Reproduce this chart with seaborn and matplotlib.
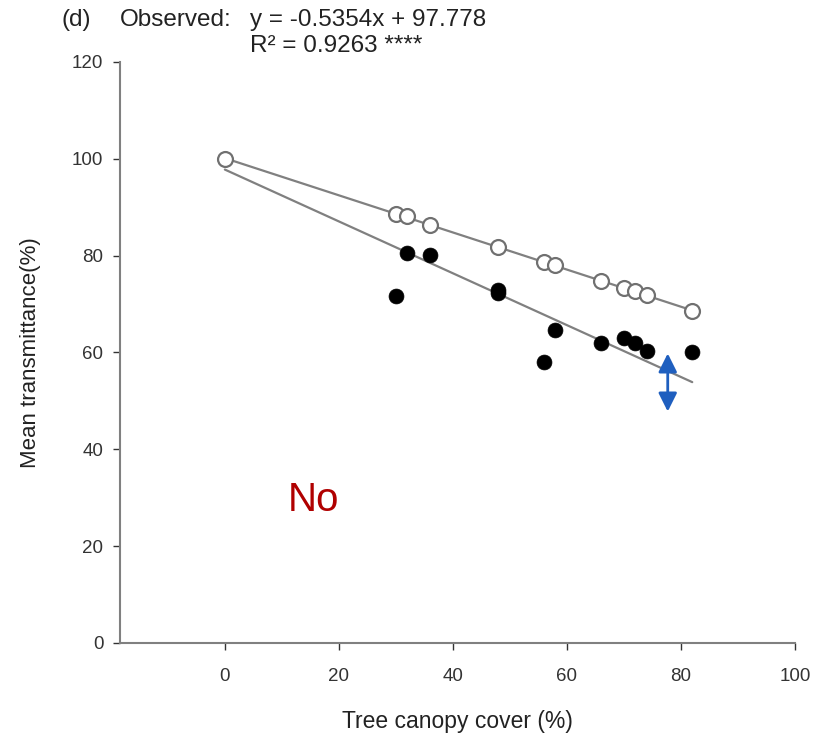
import numpy as np
import pandas as pd
import matplotlib
matplotlib.use("Agg")
import matplotlib.pyplot as plt
import seaborn as sns

# Data
open_x = [0, 30, 32, 36, 48, 56, 58, 66, 70, 72, 74, 82]
open_y = [100, 88.6, 88.1, 86.3, 81.7, 78.6, 78.0, 74.8, 73.3, 72.6, 71.8, 68.5]
filled_x = [30, 32, 36, 48, 48, 56, 58, 66, 70, 72, 74, 82]
filled_y = [71.6, 80.5, 80.2, 73.0, 72.3, 58.0, 64.7, 61.9, 62.9, 61.9, 60.4, 60.2]
obs_slope = -0.5354
obs_intercept = 97.778
line_x = [0, 82]
arrow_x = 77.7
arrow_y = [59.8, 47.8]
x_ticks = [0, 20, 40, 60, 80, 100]
y_ticks = [0, 20, 40, 60, 80, 100, 120]

sns.set_theme(style="white")
plt.rcParams['font.family'] = ['Liberation Sans', 'DejaVu Sans']

fig = plt.figure(figsize=(8.19, 7.43), dpi=100)
ax = fig.add_axes([0.1465, 0.1346, 0.824, 0.782])

gray = "#808080"
# Open-circle regression line
sns.regplot(x=np.array(open_x), y=np.array(open_y), ax=ax, ci=None, scatter=False,
            line_kws=dict(color=gray, lw=1.6), truncate=True)
# Observed regression line
obs_df = pd.DataFrame({"x": line_x, "y": [obs_slope * v + obs_intercept for v in line_x]})
sns.lineplot(data=obs_df, x="x", y="y", ax=ax, color=gray, lw=1.6)

sns.scatterplot(x=filled_x, y=filled_y, ax=ax, color="black", s=115,
                edgecolor="black", linewidth=0.5, zorder=5)
sns.scatterplot(x=open_x, y=open_y, ax=ax, facecolor="white", s=115,
                edgecolor="#707070", linewidth=1.6, zorder=6)

# Blue double arrow
ax.annotate("", xy=(arrow_x, arrow_y[1]), xytext=(arrow_x, arrow_y[0]),
            arrowprops=dict(arrowstyle="<|-|>", color="#1f5fbf", lw=2,
                            mutation_scale=28, shrinkA=0, shrinkB=0))

ax.text(15.6, 29.5, "No", color="#b00000", fontsize=29, ha="center", va="center")

ax.set_xlim(-18.4, 100)
ax.set_ylim(0, 120)
ax.set_xticks(x_ticks)
ax.set_yticks(y_ticks)
ax.tick_params(axis="both", labelsize=13.5, colors="#333333", length=5, width=1,
               direction="out", bottom=True, left=True, pad=7)
ax.tick_params(axis="x", pad=13)
for s in ["top", "right"]:
    ax.spines[s].set_visible(False)
for s in ["left", "bottom"]:
    ax.spines[s].set_color(gray)
    ax.spines[s].set_linewidth(1.5)
ax.set_xlabel("Tree canopy cover (%)", fontsize=16.5, color="#222222", labelpad=18)
ax.set_ylabel("Mean transmittance(%)", fontsize=16, color="#222222", labelpad=22)

fs = 17.5
fig.text(62 / 819, 1 - 20 / 743, "(d)", fontsize=fs, va="center", ha="left", color="#222222")
fig.text(120 / 819, 1 - 20 / 743, "Observed:", fontsize=fs, va="center", ha="left", color="#222222")
fig.text(250 / 819, 1 - 20 / 743, "y = -0.5354x + 97.778", fontsize=fs, va="center", ha="left", color="#222222")
fig.text(250 / 819, 1 - 46 / 743, "R² = 0.9263 ****", fontsize=fs, va="center", ha="left", color="#222222")

fig.savefig("out.png", dpi=100)
